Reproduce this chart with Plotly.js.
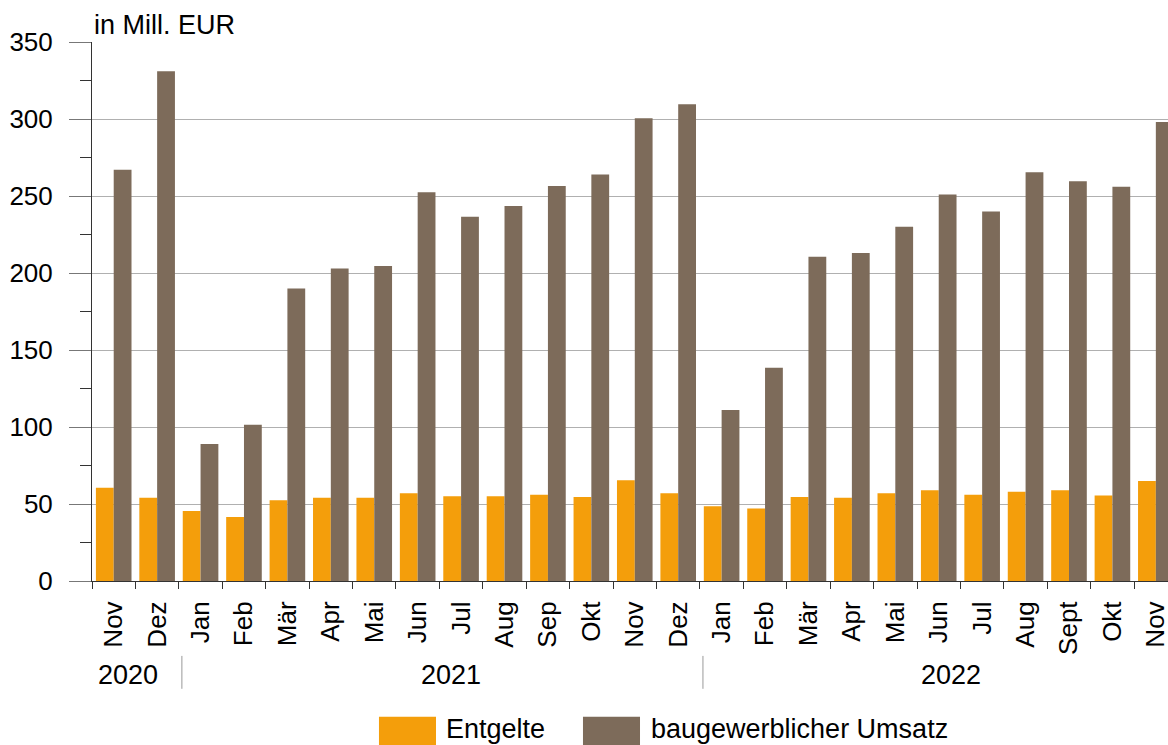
<!DOCTYPE html>
<html>
<head>
<meta charset="utf-8">
<script src="https://cdn.plot.ly/plotly-3.0.1.min.js"></script>
<style>
  html, body { margin: 0; padding: 0; background: #fff; }
  #chart { width: 1168px; height: 745px; }
</style>
</head>
<body>
<div id="chart"></div>
<script>
const months = ['Nov','Dez','Jan','Feb','Mär','Apr','Mai','Jun','Jul','Aug','Sep','Okt','Nov','Dez','Jan','Feb','Mär','Apr','Mai','Jun','Jul','Aug','Sept','Okt','Nov'];
const years = ['2020','2021','2022'];
const entgelte = [60.5,54,45.5,41.5,52.5,54,54,57,55,55,56,54.5,65.5,57,48.5,47,54.5,54,57,59,56,58,59,55.5,65];
const umsatz = [267,331,89,101.5,190,203,204.5,252.5,236.5,243.5,256.5,264,300.5,309.5,111,138.5,210.5,213,230,251,240,265.5,259.5,256,298];
const seriesNames = ['Entgelte','baugewerblicher Umsatz'];
const colors = ['#f49e0b','#7d6b5a'];

const idx = months.map((m, i) => i);
const FONT = 'Liberation Sans, Arial, sans-serif';

const traces = [
  {type:'bar', x: idx, y: entgelte, name: seriesNames[0], marker:{color: colors[0]}, hoverinfo:'y'},
  {type:'bar', x: idx, y: umsatz, name: seriesNames[1], marker:{color: colors[1]}, hoverinfo:'y'}
];

const boundaries = [];
for (let i = -0.5; i <= months.length - 0.5; i += 1) boundaries.push(i);

// year label positions (x in data units) and separators
const yearX = [0.34, 7.76, 19.29];
const sepX = [1.57, 13.57];

const annotations = [
  {xref:'paper', yref:'paper', x:0.0, y:1.0, xanchor:'left', yanchor:'bottom',
   text:'in Mill. EUR', showarrow:false, font:{family:FONT, size:27, color:'#000'}},
];
years.forEach((y, i) => annotations.push({
  xref:'x', yref:'paper', x: yearX[i], y: -0.175, xanchor:'center', yanchor:'middle',
  text: y, showarrow:false, font:{family:FONT, size:27, color:'#000'}
}));
// legend texts
annotations.push({xref:'paper', yref:'paper', x:0.327, y:-0.2755, xanchor:'left', yanchor:'middle',
  text: seriesNames[0], showarrow:false, font:{family:FONT, size:27, color:'#000'}});
annotations.push({xref:'paper', yref:'paper', x:0.5176, y:-0.2755, xanchor:'left', yanchor:'middle',
  text: seriesNames[1], showarrow:false, font:{family:FONT, size:27, color:'#000'}});

const shapes = [];
sepX.forEach(sx => shapes.push({type:'line', xref:'x', yref:'paper', x0:sx, x1:sx, y0:-0.139, y1:-0.200,
  line:{color:'#999', width:1}}));
// legend swatches
shapes.push({type:'rect', xref:'paper', yref:'paper', x0:0.2667, x1:0.3197, y0:-0.252, y1:-0.32,
  fillcolor: colors[0], line:{width:0}});
shapes.push({type:'rect', xref:'paper', yref:'paper', x0:0.4563, x1:0.5093, y0:-0.252, y1:-0.32,
  fillcolor: colors[1], line:{width:0}});

const layout = {
  width:1168, height:745,
  margin:{l:92, r:0, t:42, b:164, pad:0},
  paper_bgcolor:'#fff', plot_bgcolor:'#fff',
  barmode:'group', bargap:0.18, bargroupgap:0,
  showlegend:false,
  font:{family:FONT, size:26, color:'#000'},
  xaxis:{
    range:[-0.5, 24.28],
    tickmode:'array', tickvals: idx, ticktext: months,
    tickangle:-90, ticks:'', ticklabelstandoff:9,
    ticklabeloverflow:'allow',
    tickfont:{family:FONT, size:26, color:'#000'},
    showline:true, linecolor:'#333', linewidth:1,
    showgrid:false, zeroline:false, fixedrange:true,
    minor:{tickmode:'array', tickvals: boundaries, ticks:'outside', ticklen:7, tickcolor:'#333', tickwidth:1, showgrid:false}
  },
  yaxis:{
    range:[0,350], dtick:50, tick0:0,
    ticks:'outside', ticklen:22, tickcolor:'#777', tickwidth:1,
    ticklabelstandoff:11,
    tickfont:{family:FONT, size:26, color:'#000'},
    showgrid:true, gridcolor:'#b0b0b0', gridwidth:1,
    showline:true, linecolor:'#333', linewidth:1,
    zeroline:false, fixedrange:true,
    minor:{dtick:25, tick0:0, ticks:'outside', ticklen:11, tickcolor:'#333', tickwidth:1, showgrid:false}
  },
  annotations: annotations,
  shapes: shapes
};

Plotly.newPlot('chart', traces, layout, {displayModeBar:false, staticPlot:true});
</script>
</body>
</html>
